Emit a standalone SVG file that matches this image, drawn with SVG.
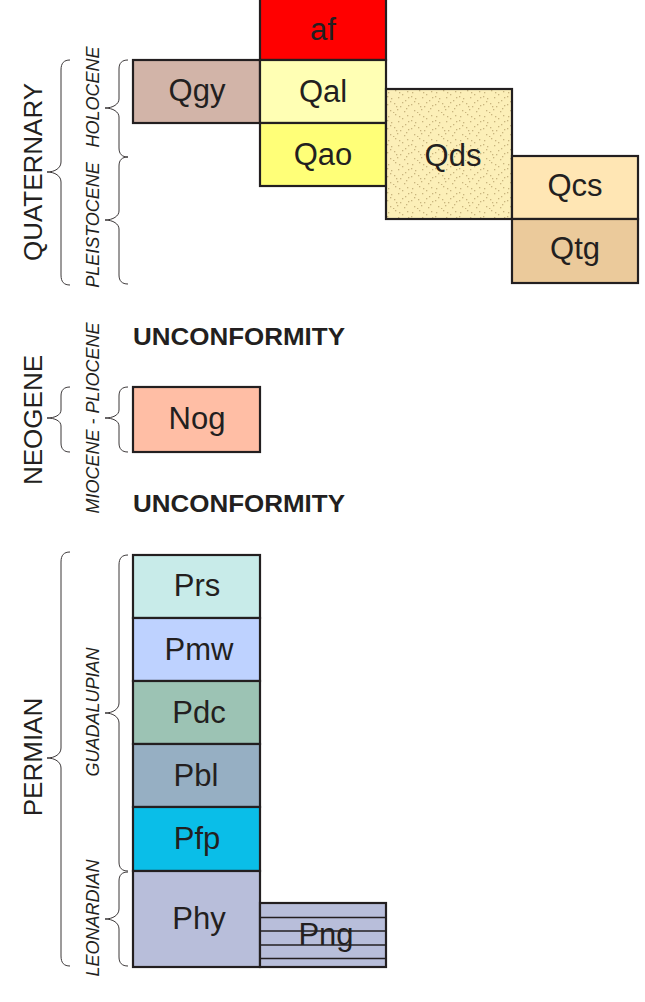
<svg xmlns="http://www.w3.org/2000/svg" width="645" height="1002" viewBox="0 0 645 1002">
<defs>
<pattern id="dots" x="386" y="89" width="24" height="24" patternUnits="userSpaceOnUse">
<rect width="24" height="24" fill="#FCEFB8"/>
<g fill="#C9B57E">
<rect x="2" y="3" width="1.3" height="1.3"/><rect x="9" y="1" width="1.3" height="1.3"/><rect x="16" y="5" width="1.3" height="1.3"/><rect x="21" y="2" width="1.3" height="1.3"/>
<rect x="5" y="9" width="1.3" height="1.3"/><rect x="12" y="8" width="1.3" height="1.3"/><rect x="19" y="11" width="1.3" height="1.3"/>
<rect x="1" y="15" width="1.3" height="1.3"/><rect x="8" y="14" width="1.3" height="1.3"/><rect x="14" y="17" width="1.3" height="1.3"/><rect x="22" y="16" width="1.3" height="1.3"/>
<rect x="4" y="21" width="1.3" height="1.3"/><rect x="11" y="20" width="1.3" height="1.3"/><rect x="18" y="22" width="1.3" height="1.3"/>
<rect x="13" y="3" width="1.3" height="1.3"/><rect x="1" y="7" width="1.3" height="1.3"/><rect x="22" y="8" width="1.3" height="1.3"/><rect x="16" y="13" width="1.3" height="1.3"/>
<rect x="4" y="12" width="1.3" height="1.3"/><rect x="10" y="17" width="1.3" height="1.3"/><rect x="20" y="19" width="1.3" height="1.3"/><rect x="7" y="23" width="1.3" height="1.3"/>
</g>
</pattern>
</defs>
<style>
.box{stroke:#231F20;stroke-width:2.2}
.lbl{font-family:"Liberation Sans",Arial,sans-serif;font-size:31px;fill:#231F20;text-anchor:middle}
.era{font-family:"Liberation Sans",Arial,sans-serif;font-size:26px;fill:#231F20;text-anchor:middle}
.ep{font-family:"Liberation Sans",Arial,sans-serif;font-size:18px;font-style:italic;fill:#231F20;text-anchor:middle}
.unc{font-family:"Liberation Sans",Arial,sans-serif;font-size:24px;font-weight:bold;fill:#231F20}
.brace{fill:none;stroke:#3A3637;stroke-width:1}
.hatch{stroke:#231F20;stroke-width:1.5}
</style>
<rect width="645" height="1002" fill="#FFFFFF"/>

<g id="labels">
<text class="era" transform="translate(42,172) rotate(-90)">QUATERNARY</text>
<text class="era" transform="translate(42,420) rotate(-90)">NEOGENE</text>
<text class="era" transform="translate(42,757) rotate(-90)">PERMIAN</text>
<text class="ep" transform="translate(99,97) rotate(-90)">HOLOCENE</text>
<text class="ep" transform="translate(99,225) rotate(-90)">PLEISTOCENE</text>
<text class="ep" transform="translate(99,418) rotate(-90)">MIOCENE - PLIOCENE</text>
<text class="ep" transform="translate(99,712) rotate(-90)">GUADALUPIAN</text>
<text class="ep" transform="translate(99,918) rotate(-90)">LEONARDIAN</text>
<text class="unc" x="133" y="345" textLength="212" lengthAdjust="spacingAndGlyphs">UNCONFORMITY</text>
<text class="unc" x="133" y="512" textLength="212" lengthAdjust="spacingAndGlyphs">UNCONFORMITY</text>
</g>

<g id="braces">
<path class="brace" d="M70,60 C64,60 61,63 61,70 L61,162 C61,168 55,172 47,172 C55,172 61,176 61,182 L61,275 C61,282 64,285 70,285"/>
<path class="brace" d="M128,60 C122,60 119,63 119,69 L119,99 C119,104 113,108 105,108 C113,108 119,112 119,117 L119,148 C119,154 122,157 128,157"/>
<path class="brace" d="M128,157 C122,157 119,160 119,166 L119,211 C119,216 113,220 105,220 C113,220 119,224 119,229 L119,275 C119,281 122,284 128,284"/>
<path class="brace" d="M70,387 C64,387 61,390 61,396 L61,410 C61,415 55,418 47,418 C55,418 61,421 61,426 L61,443 C61,449 64,452 70,452"/>
<path class="brace" d="M128,387 C122,387 119,390 119,396 L119,410 C119,415 113,418 105,418 C113,418 119,421 119,426 L119,443 C119,449 122,452 128,452"/>
<path class="brace" d="M70,552 C64,552 61,555 61,562 L61,748 C61,754 55,758 47,758 C55,758 61,762 61,768 L61,956 C61,963 64,966 70,966"/>
<path class="brace" d="M128,555 C122,555 119,558 119,565 L119,703 C119,709 113,713 105,713 C113,713 119,717 119,723 L119,862 C119,868 122,871 128,871"/>
<path class="brace" d="M128,872 C122,872 119,875 119,881 L119,909 C119,915 113,919 105,919 C113,919 119,923 119,929 L119,957 C119,963 122,966 128,966"/>
</g>

<g id="af"><rect class="box" x="260" y="-3" width="126" height="63" fill="#FF0000"/><text class="lbl" x="323" y="40">af</text></g>
<g id="Qgy"><rect class="box" x="133" y="60" width="127" height="63" fill="#D2B4A8"/><text class="lbl" x="197" y="101">Qgy</text></g>
<g id="Qal"><rect class="box" x="260" y="60" width="126" height="63" fill="#FFFFB4"/><text class="lbl" x="323" y="102">Qal</text></g>
<g id="Qao"><rect class="box" x="260" y="123" width="126" height="63" fill="#FFFF78"/><text class="lbl" x="323" y="165">Qao</text></g>
<g id="Qds"><rect class="box" x="386" y="89" width="126" height="130" fill="url(#dots)"/><text class="lbl" x="453" y="166">Qds</text></g>
<g id="Qcs"><rect class="box" x="512" y="156" width="126" height="63" fill="#FFE6B4"/><text class="lbl" x="575" y="196">Qcs</text></g>
<g id="Qtg"><rect class="box" x="512" y="219" width="126" height="64" fill="#EBCA9B"/><text class="lbl" x="575" y="259">Qtg</text></g>
<g id="Nog"><rect class="box" x="133" y="387" width="127" height="65" fill="#FFBEA5"/><text class="lbl" x="197" y="429">Nog</text></g>
<g id="Prs"><rect class="box" x="133" y="555" width="127" height="63" fill="#C8EBE9"/><text class="lbl" x="197" y="596">Prs</text></g>
<g id="Pmw"><rect class="box" x="133" y="618" width="127" height="63" fill="#BED2FF"/><text class="lbl" x="199" y="660">Pmw</text></g>
<g id="Pdc"><rect class="box" x="133" y="681" width="127" height="63" fill="#9CC3B4"/><text class="lbl" x="199" y="723">Pdc</text></g>
<g id="Pbl"><rect class="box" x="133" y="744" width="127" height="63" fill="#96AFC3"/><text class="lbl" x="196" y="786">Pbl</text></g>
<g id="Pfp"><rect class="box" x="133" y="807" width="127" height="64" fill="#0ABEE8"/><text class="lbl" x="197" y="849">Pfp</text></g>
<g id="Phy"><rect class="box" x="133" y="871" width="127" height="96" fill="#B8BEDA"/><text class="lbl" x="199" y="929">Phy</text></g>
<g id="Png">
<rect x="260" y="903" width="126" height="64" fill="#B8BEDA"/>
<line class="hatch" x1="260" y1="917.5" x2="386" y2="917.5"/>
<line class="hatch" x1="260" y1="931" x2="386" y2="931"/>
<line class="hatch" x1="260" y1="945" x2="386" y2="945"/>
<line class="hatch" x1="260" y1="958.5" x2="386" y2="958.5"/>
<rect class="box" x="260" y="903" width="126" height="64" fill="none"/>
<text class="lbl" x="326" y="945">Png</text>
</g>
</svg>
